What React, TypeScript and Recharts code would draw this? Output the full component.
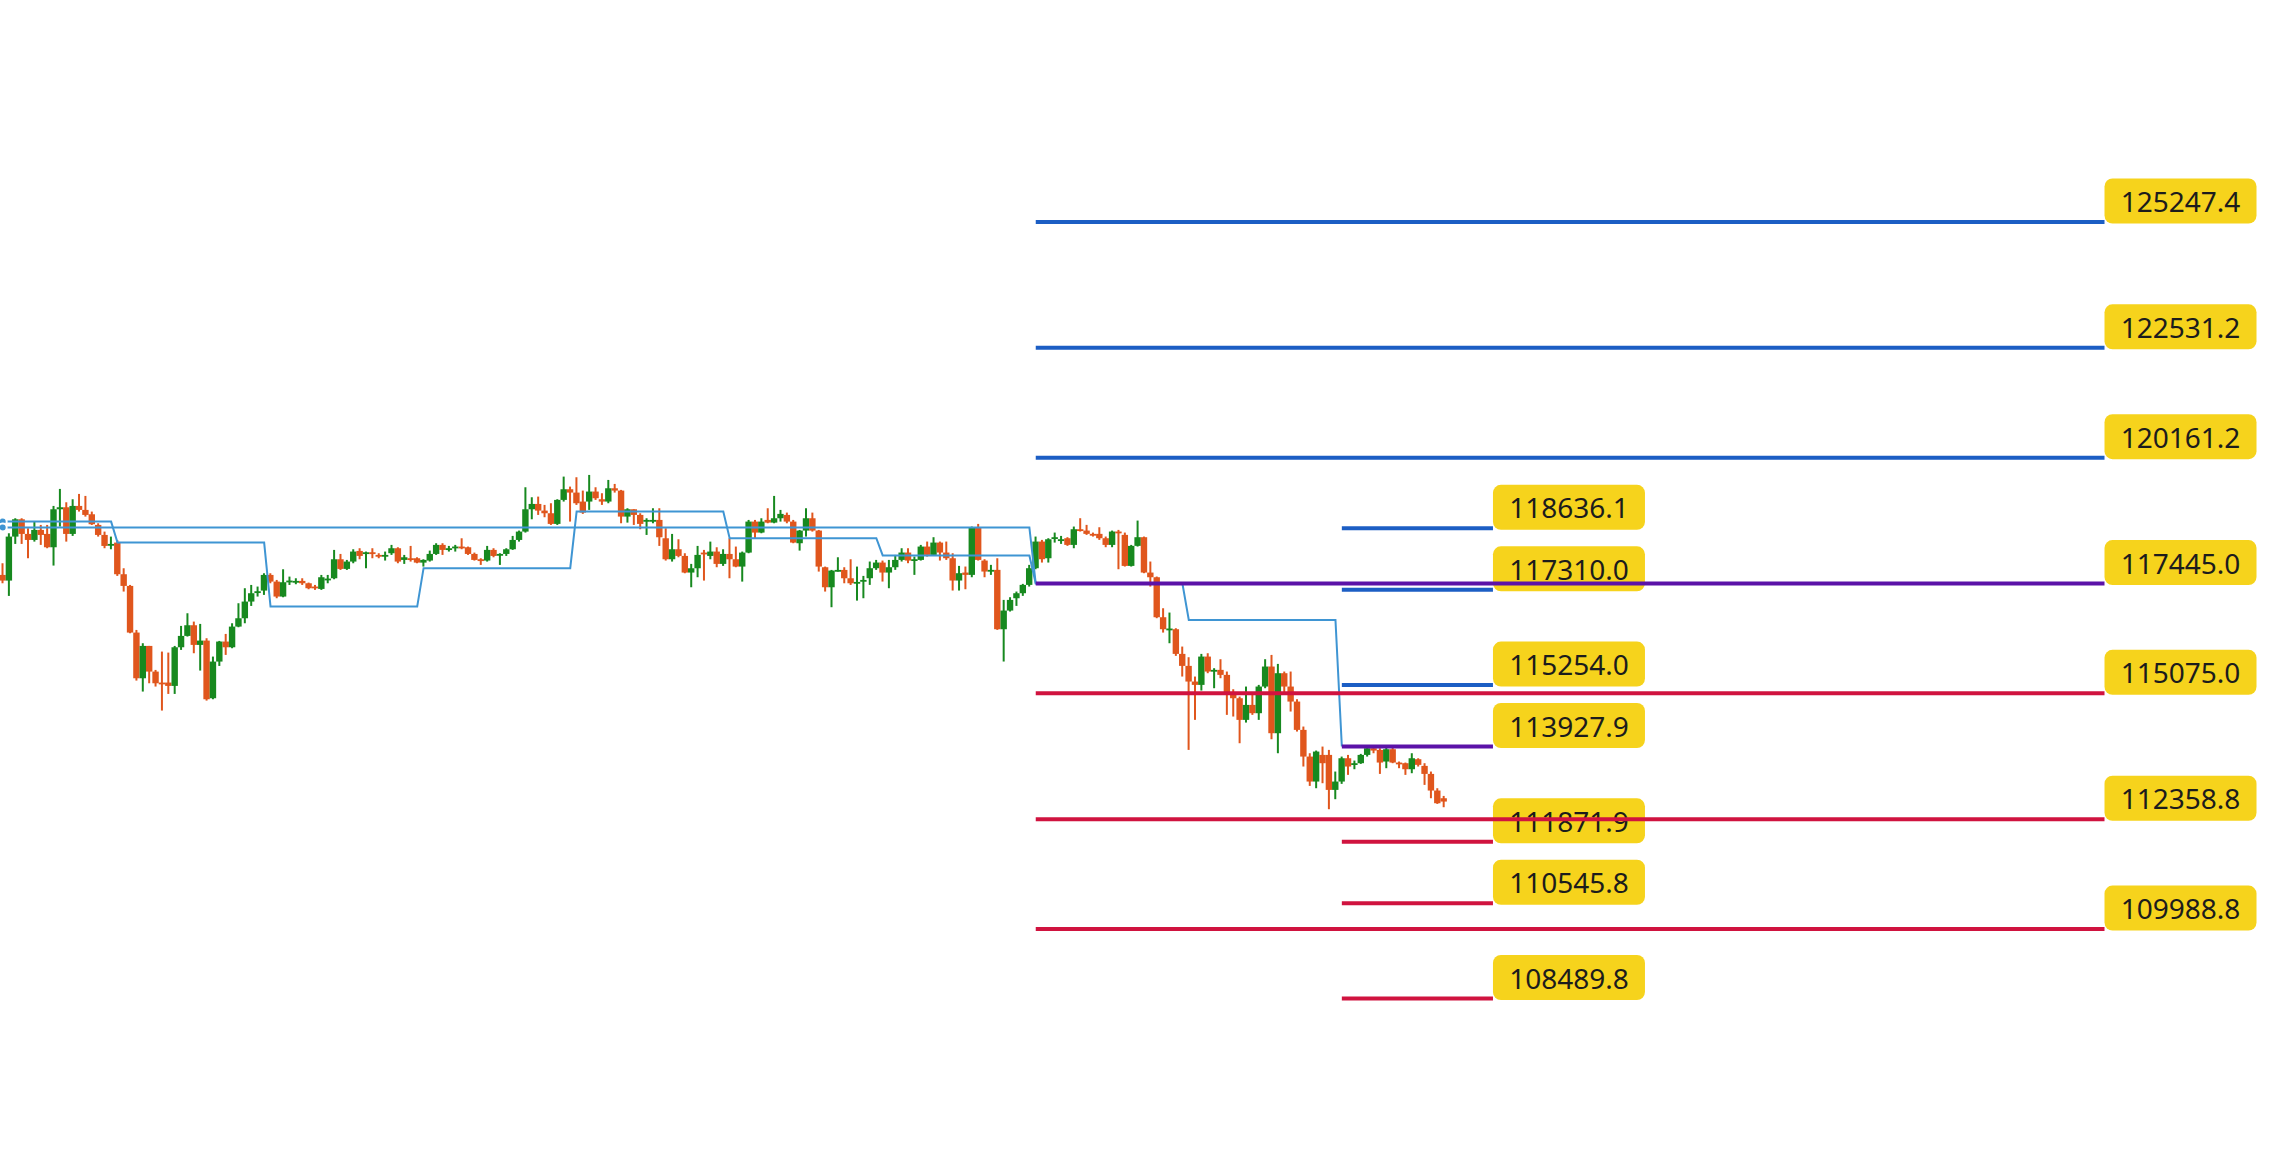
import React from 'react'
import { ComposedChart, XAxis, YAxis, Bar, Line, ReferenceLine } from 'recharts'

// candles, one row each: [open, high, low, close]
const candlesA = [
  [117631, 117883, 117451, 117509], [117509, 118530, 117178, 118458], [118458, 118854, 118300, 118832],
  [118832, 118854, 118300, 118516], [118516, 118638, 117991, 118386], [118386, 118782, 118350, 118602],
  [118602, 118710, 118279, 118494], [118516, 118710, 118207, 118228], [118228, 119120, 117833, 119048],
  [119048, 119487, 118674, 119091], [119091, 119199, 118350, 118516], [118516, 119264, 118473, 119120],
  [119120, 119379, 118998, 119034], [119034, 119336, 118890, 118926], [118940, 118998, 118710, 118725],
  [118710, 118746, 118458, 118494], [118494, 118566, 118207, 118257], [118271, 118458, 118185, 118300],
  [118329, 118386, 117610, 117646], [117646, 117775, 117272, 117394], [117394, 117415, 116372, 116387],
  [116387, 116444, 115351, 115401], [115401, 116157, 115114, 116099], [116099, 116099, 115293, 115545],
  [115545, 115581, 115222, 115293], [115308, 115977, 114704, 115279], [115308, 115955, 115063, 115236],
  [115236, 116099, 115063, 116070], [116070, 116531, 116013, 116315], [116315, 116804, 116301, 116545],
  [116545, 116624, 115941, 116121], [116121, 116574, 115567, 116214], [116214, 116265, 114919, 114948],
  [114970, 115869, 114948, 115761], [115761, 116207, 115667, 116193], [116193, 116358, 115905, 116070],
  [116070, 116588, 116049, 116516], [116516, 117020, 116502, 116696], [116696, 117344, 116588, 117056],
  [117056, 117415, 116962, 117236], [117250, 117380, 117164, 117279], [117293, 117667, 117200, 117631],
  [117631, 117667, 117451, 117487], [117487, 117523, 117128, 117164], [117164, 117753, 117149, 117473],
]

const candlesB = [
  [117480, 117595, 117415, 117509], [117473, 117559, 117430, 117502], [117502, 117559, 117415, 117451],
  [117451, 117466, 117322, 117344], [117380, 117415, 117308, 117344], [117329, 117631, 117308, 117581],
  [117523, 117631, 117451, 117552], [117559, 118171, 117538, 117969], [117969, 118084, 117739, 117761],
  [117761, 117955, 117739, 117919], [117919, 118185, 117883, 118135], [118149, 118207, 117969, 118041],
  [118099, 118135, 117775, 118120], [118120, 118207, 117991, 118099], [118063, 118099, 117991, 118027],
  [118041, 118135, 117941, 118063], [118099, 118279, 118063, 118207], [118207, 118228, 117883, 117919],
  [117955, 118063, 117869, 118012], [117991, 118257, 117919, 117969], [117991, 118012, 117883, 117897],
  [117897, 117969, 117811, 117955], [117941, 118156, 117919, 118084], [118084, 118315, 118063, 118279],
  [118279, 118315, 118063, 118171], [118185, 118257, 118135, 118207], [118207, 118279, 118135, 118243],
  [118243, 118422, 118185, 118228], [118228, 118243, 118063, 118084], [118084, 118113, 117941, 117955],
  [117969, 117991, 117847, 117941], [117941, 118257, 117919, 118171], [118171, 118207, 118012, 118041],
  [118063, 118099, 117847, 118084], [118084, 118207, 118041, 118185], [118185, 118473, 118171, 118386],
  [118386, 118588, 118350, 118566], [118566, 119523, 118545, 119048], [119048, 119307, 118832, 119163],
  [119163, 119321, 118926, 119019], [119019, 119142, 118876, 118962], [118962, 119178, 118710, 118732],
  [118732, 119264, 118710, 119250], [119250, 119753, 119214, 119480], [119480, 119537, 118782, 119408],
  [119408, 119739, 119142, 119178],
]

const candlesC = [
  [119214, 119451, 118948, 118976], [119214, 119789, 119034, 119430], [119430, 119523, 119250, 119286],
  [119264, 119394, 119142, 119214], [119214, 119681, 119178, 119501], [119501, 119595, 119408, 119451],
  [119451, 119466, 118746, 118890], [118890, 119070, 118760, 119048], [119048, 119048, 118710, 118926],
  [118926, 118962, 118617, 118732], [118782, 118854, 118494, 118818], [118804, 119070, 118746, 118818],
  [118818, 119070, 118257, 118444], [118422, 118638, 117941, 117969], [117969, 118516, 117919, 118185],
  [118185, 118401, 118012, 118041], [118041, 118099, 117667, 117682], [117682, 117869, 117365, 117775],
  [117775, 118257, 117581, 118063], [118113, 118171, 117509, 118084], [118041, 118350, 117969, 118135],
  [118135, 118228, 117797, 117869], [117869, 118185, 117826, 118084], [118084, 118422, 117559, 117969],
  [117969, 118243, 117797, 117811], [117811, 118135, 117487, 118113], [118113, 118818, 118099, 118782],
  [118782, 118818, 118422, 118545], [118545, 118854, 118530, 118782], [118818, 119070, 118746, 118760],
  [118760, 119336, 118746, 118854], [118854, 119034, 118782, 118948], [118926, 118976, 118746, 118782],
  [118782, 118818, 118315, 118329], [118315, 118602, 118156, 118588], [118588, 119070, 118458, 118854],
  [118854, 118976, 118566, 118588], [118588, 118602, 117703, 117811], [117797, 117811, 117272, 117365],
  [117365, 117739, 116934, 117725], [117725, 118012, 117703, 117739], [117739, 117797, 117451, 117559],
  [117559, 117969, 117415, 117451], [117466, 117811, 117077, 117480], [117502, 117610, 117128, 117523],
]

const candlesD = [
  [117560, 117920, 117416, 117776], [117776, 117955, 117740, 117898], [117898, 117941, 117488, 117682],
  [117682, 117955, 117344, 117797], [117797, 118063, 117740, 117955], [117955, 118207, 117920, 118114],
  [118114, 118207, 117884, 117941], [117955, 118027, 117632, 117970], [117955, 118279, 117941, 118243],
  [118243, 118351, 118027, 118063], [118063, 118445, 118042, 118329], [118329, 118351, 117941, 118114],
  [118114, 118351, 117955, 117991], [117991, 118099, 117294, 117510], [117510, 117826, 117294, 117668],
  [117682, 117812, 117322, 117632], [117632, 118675, 117581, 118660], [118660, 118732, 117941, 117955],
  [117941, 117970, 117581, 117704], [117704, 117848, 117632, 117740], [117740, 117991, 116445, 116459],
  [116459, 117092, 115762, 116862], [116862, 117150, 116841, 117092], [117128, 117272, 116963, 117236],
  [117236, 117438, 117179, 117416], [117416, 117848, 117380, 117776], [117776, 118459, 117754, 118351],
  [118351, 118387, 117898, 117970], [117991, 118423, 117898, 118401], [118423, 118545, 118329, 118445],
  [118387, 118473, 118301, 118401], [118423, 118445, 118258, 118279], [118279, 118675, 118207, 118617],
  [118617, 118855, 118567, 118588], [118588, 118711, 118495, 118517], [118517, 118545, 118459, 118495],
  [118517, 118660, 118387, 118423], [118423, 118459, 118229, 118279], [118279, 118588, 118229, 118567],
  [118567, 118603, 117754, 118531], [118495, 118545, 117812, 117826], [117826, 118279, 117812, 118258],
  [118258, 118804, 118243, 118445], [118445, 118459, 117668, 117682], [117682, 117920, 117380, 117581],
  [117581, 117596, 116697, 116718],
]

const candlesE = [
  [116718, 116912, 116387, 116459], [116445, 116819, 116157, 116474], [116459, 116481, 115884, 115927],
  [115927, 116085, 115438, 115668], [115668, 115855, 113855, 115330], [115330, 115438, 114503, 115258],
  [115258, 115927, 115136, 115869], [115869, 115941, 115510, 115546], [115546, 115618, 115186, 115582],
  [115582, 115812, 115402, 115474], [115474, 115546, 114611, 115078], [115078, 115164, 114575, 114970],
  [114970, 115006, 113999, 114503], [114503, 115222, 114445, 114826], [114826, 115042, 114611, 114647],
  [114647, 115258, 114503, 115222], [115222, 115812, 115186, 115654], [115654, 115905, 114085, 114215],
  [114215, 115711, 113783, 115510], [115510, 115546, 115078, 115222], [115222, 115546, 114683, 114898],
  [114898, 114949, 114251, 114287], [114287, 114359, 113496, 113711], [113711, 113783, 113078, 113172],
  [113172, 113841, 113028, 113819], [113747, 113927, 113136, 113568], [113747, 113855, 112575, 112992],
  [112992, 113388, 112791, 113172], [113172, 113711, 113122, 113675], [113675, 113747, 113316, 113496],
  [113532, 113625, 113438, 113568], [113568, 113769, 113553, 113747], [113747, 113927, 113711, 113891],
  [113891, 113913, 113783, 113841], [113855, 113891, 113337, 113582], [113604, 113913, 113460, 113870],
  [113870, 113913, 113568, 113582], [113582, 113604, 113460, 113553], [113568, 113582, 113316, 113438],
  [113438, 113783, 113352, 113675], [113654, 113675, 113496, 113532], [113510, 113568, 113100, 113337],
  [113337, 113388, 112812, 112978], [112978, 113028, 112690, 112704], [112812, 112862, 112618, 112740],
]

// the two stepped light-blue lines, corner points (candle index, price)
const stepA = [
  { i: 0, v: 118782 }, { i: 17, v: 118782 }, { i: 18, v: 118329 }, { i: 41, v: 118329 },
  { i: 42, v: 116948 }, { i: 65, v: 116948 }, { i: 66, v: 117776 }, { i: 89, v: 117776 },
  { i: 90, v: 118998 }, { i: 113, v: 118998 }, { i: 114, v: 118423 }, { i: 137, v: 118423 },
  { i: 138, v: 118052 }, { i: 161, v: 118052 }, { i: 162, v: 117445 },
]
const stepB = [
  { i: 0, v: 118656 }, { i: 161, v: 118656 }, { i: 162, v: 117445 }, { i: 185, v: 117445 },
  { i: 186, v: 116660 }, { i: 209, v: 116660 }, { i: 210, v: 113927.9 },
]

// level lines
const longLevels = [125247.4, 122531.2, 120161.2, 117445.0, 115075.0, 112358.8, 109988.8]
const longKinds = ['res', 'res', 'res', 'pivot', 'sup', 'sup', 'sup']
const shortLevels = [118636.1, 117310.0, 115254.0, 113927.9, 111871.9, 110545.8, 108489.8]
const shortKinds = ['res', 'res', 'res', 'pivot', 'sup', 'sup', 'sup']

const LONG_FROM = 162
const LONG_TO = 329.6
const SHORT_FROM = 210
const SHORT_TO = 233.7

const UP = '#17891f'
const DOWN = '#e0561d'
const STEP = '#3f95d3'
const TAG_BG = '#f6d31c'
const kindColor: Record<string, string> = { res: '#1c5ec4', pivot: '#5b12a8', sup: '#d0133f' }

const candles = [...candlesA, ...candlesB, ...candlesC, ...candlesD, ...candlesE]
const data = candles.map(([o, h, l, c], i) => ({ i, o, h, l, c, range: [l, h] }))

const Candle = (props: any) => {
  const { x, y, width, height, payload } = props
  if (!payload || height == null || isNaN(y)) return null
  const { o, h, l, c } = payload
  const cx = x + width / 2
  const yOf = (v: number) => y + ((h - v) / (h - l || 1)) * height
  const color = c >= o ? UP : DOWN
  const top = yOf(Math.max(o, c))
  const bot = yOf(Math.min(o, c))
  return (
    <g>
      <line x1={cx} x2={cx} y1={y} y2={y + height} stroke={color} strokeWidth={2} />
      <rect x={cx - 3.2} y={top} width={6.4} height={Math.max(bot - top, 1.8)} fill={color} />
    </g>
  )
}

const Tag = (props: any) => {
  const { viewBox, tag } = props
  if (!viewBox) return null
  const x = viewBox.x + viewBox.width
  const yb = viewBox.y + 1.5
  return (
    <g>
      <rect x={x} y={yb - 45} width={152} height={45} rx={8} ry={8} fill={TAG_BG} />
      <text
        x={x + 76}
        y={yb - 22.5}
        textAnchor="middle"
        dominantBaseline="central"
        fontFamily="'Noto Sans', sans-serif"
        fontSize={28}
        fill="#1c1c1c"
      >
        {tag}
      </text>
    </g>
  )
}

const App = () => {
  return (
    <div style={{ position: 'absolute', left: 0, top: 0, width: 2280, height: 1160, background: '#fff' }}>
      <ComposedChart width={2280} height={1160} data={data} margin={{ top: 0, right: 0, bottom: 0, left: 0 }}>
        <XAxis type="number" dataKey="i" domain={[-0.423, 357.12]} allowDataOverflow hide />
        <YAxis type="number" domain={[105005, 130038]} allowDataOverflow hide />
        <Bar dataKey="range" barSize={6} shape={<Candle />} isAnimationActive={false} />
        <Line data={stepA} dataKey="v" type="linear" stroke={STEP} strokeWidth={2} dot={false} isAnimationActive={false} />
        <Line data={stepB} dataKey="v" type="linear" stroke={STEP} strokeWidth={2} dot={false} isAnimationActive={false} />
        {shortLevels.map((v, k) => (
          <ReferenceLine
            key={'s' + k}
            segment={[{ x: SHORT_FROM, y: v }, { x: SHORT_TO, y: v }]}
            stroke={kindColor[shortKinds[k]]}
            strokeWidth={4}
            label={<Tag tag={v.toFixed(1)} />}
          />
        ))}
        {longLevels.map((v, k) => (
          <ReferenceLine
            key={'l' + k}
            segment={[{ x: LONG_FROM, y: v }, { x: LONG_TO, y: v }]}
            stroke={kindColor[longKinds[k]]}
            strokeWidth={4}
            label={<Tag tag={v.toFixed(1)} />}
          />
        ))}
      </ComposedChart>
    </div>
  )
}

export default App
